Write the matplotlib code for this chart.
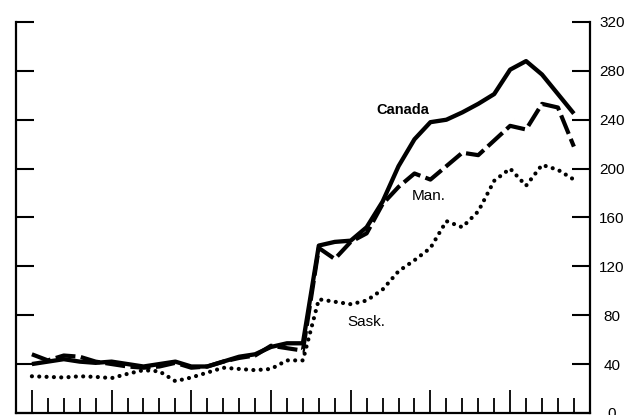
import matplotlib
matplotlib.use("Agg")
import matplotlib.pyplot as plt

plt.rcParams['font.family'] = ['Liberation Sans', 'DejaVu Sans']

# one point per year, x = tick index 1..35
years = list(range(1, 36))
canada = [40, 42, 44, 42, 41, 42, 40, 38, 40, 42, 38, 38, 42, 46, 48, 54, 57, 57,
          137, 140, 141, 152, 173, 202, 224, 238, 240, 246, 253, 261, 281, 288, 277, 261, 245]
manitoba = [48, 43, 47, 46, 42, 40, 38, 37, 38, 41, 37, 38, 42, 45, 47, 55, 53, 51,
            135, 126, 140, 147, 171, 185, 196, 191, 202, 213, 211, 223, 235, 232, 253, 250, 218]
sask = [30, 29.5, 29, 30, 29.5, 28.5, 32, 35, 34, 26, 29, 33, 37, 36, 35, 36, 43, 43,
        93, 91, 89, 92, 101, 116, 125, 135, 157, 152, 165, 190, 200, 186, 203, 199, 191]

yticks = [0, 40, 80, 120, 160, 200, 240, 280, 320]

fig = plt.figure(figsize=(6.38, 4.15), dpi=100)
ax = fig.add_axes([0.025, 0.005, 0.8995, 0.942])

ax.plot(years, canada, color='black', lw=3.1, solid_capstyle='butt', solid_joinstyle='round')
ax.plot(years, manitoba, color='black', lw=3.0, linestyle=(0, (4.8, 1.3)), dash_capstyle='butt')
ax.plot(years, sask, color='black', lw=3.0, linestyle=(0, (0.01, 1.75)), dash_capstyle='round')

ax.set_xlim(0, 36)
ax.set_ylim(0, 320)

ax.spines['top'].set_visible(False)
for s in ['left', 'right', 'bottom']:
    ax.spines[s].set_linewidth(1.6)

ax.set_yticks(yticks)
ax.yaxis.set_ticks_position('both')
ax.tick_params(axis='y', direction='in', length=13, width=1.5,
               left=True, right=True, labelleft=False, labelright=True,
               labelsize=11, pad=16)
for lab in ax.get_yticklabels():
    lab.set_horizontalalignment('center')

ax.set_xticks([1, 6, 11, 16, 21, 26, 31])
ax.set_xticks([i for i in years if (i - 1) % 5 != 0], minor=True)
ax.tick_params(axis='x', which='major', direction='in', length=16.5, width=1.3, labelbottom=False)
ax.tick_params(axis='x', which='minor', direction='in', length=11, width=1.3)

# labels placed in pixel coordinates (y from top)
fig.text(403 / 638, 1 - 110 / 415, 'Canada', fontsize=10.5, fontweight='bold',
         ha='center', va='center')
fig.text(429 / 638, 1 - 196 / 415, 'Man.', fontsize=11, ha='center', va='center')
fig.text(366 / 638, 1 - 322 / 415, 'Sask.', fontsize=11, ha='center', va='center')

fig.savefig('out.png', dpi=100)
